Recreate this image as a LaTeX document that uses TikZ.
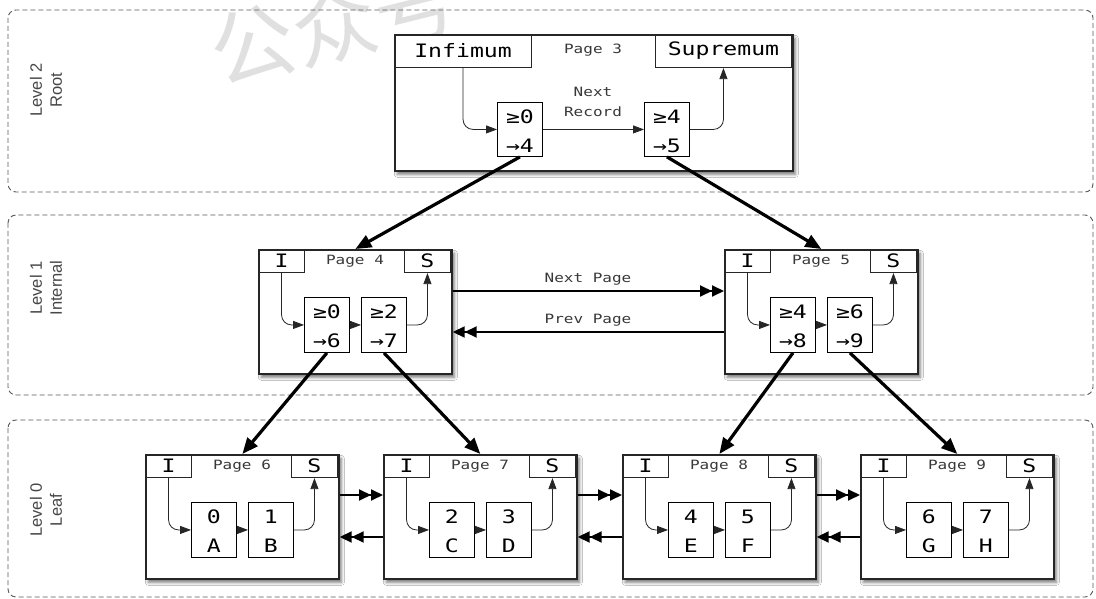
\documentclass[tikz,border=0pt]{standalone}
\usepackage{fontspec}
\usetikzlibrary{arrows.meta,shadows.blur}
\newfontfamily\monof[FakeStretch=1.25]{DejaVu Sans Mono}
\newfontfamily\labf{Liberation Sans}
\newfontfamily\cjkf{Noto Sans CJK SC}
\newcommand\bigmono{\monof\fontsize{18.5}{20}\selectfont}
\newcommand\smallmono{\monof\fontsize{12.8}{20}\selectfont}
\tikzset{
  pg/.style={draw=black!85, line width=1.7pt, fill=white, inner sep=0pt,
    blur shadow={shadow xshift=2.5pt, shadow yshift=-3.5pt, shadow blur radius=3pt, shadow opacity=55}},
  hdr/.style={draw=black!85, line width=1.1pt, inner sep=0pt, font=\bigmono},
  rec/.style={draw=black, line width=0.9pt, fill=white, inner sep=0pt, minimum width=45pt, minimum height=55pt},
  rtext/.style={inner sep=0pt, font=\bigmono},
  plabel/.style={inner sep=0pt, font=\smallmono, text=black!78, align=center},
  inarrow/.style={draw=black!85, line width=0.8pt, -{Triangle[length=11pt,width=8pt]}},
  tree/.style={draw=black, line width=3.2pt, -{Triangle[length=16pt,width=13pt]}},
  parrow/.style={draw=black, line width=1.8pt, -{Triangle[length=12pt,width=11pt] Triangle[length=12pt,width=11pt]}},
  band/.style={draw=black!65, line width=0.9pt, dash pattern=on 5pt off 3pt, rounded corners=8pt},
  lvl/.style={inner sep=0pt, font=\labf\fontsize{16.5}{20}\selectfont, text=black!72, align=center, rotate=90},
  wm/.style={inner sep=0pt, font=\cjkf\fontsize{84}{90}\selectfont, text=black!12, rotate=14}
}
% page frame: #1 name, #2 x, #3 y, #4 number
\newcommand\mkpage[4]{%
  \node[pg, anchor=north west, minimum width=193pt, minimum height=124pt] (#1) at (#2,#3) {};
  \node[hdr, anchor=north west, minimum width=46pt, minimum height=23pt] (#1i) at (#2,#3) {I};
  \node[hdr, anchor=north east, minimum width=46pt, minimum height=23pt] (#1s) at (#2+193,#3) {S};
  \node[plabel] (#1t) at (#2+97,#3+12) {Page #4};
  \node[rec, anchor=north west] (#1a) at (#2+46,#3+48) {};
  \node[rec, anchor=north west] (#1b) at (#2+103,#3+48) {};
  \draw[inarrow, rounded corners=10pt] (#1i.south) |- (#1a.west);
  \draw[inarrow] (#1a.east) -- (#1b.west);
  \draw[inarrow, rounded corners=10pt] (#1b.east) -| (#1s.south);
}
% record texts
\newcommand\recs[5]{%
  \node[rtext] (#1a1) at ([yshift=-14.5pt]#1a.north) {#2};
  \node[rtext] (#1a2) at ([yshift=-43.5pt]#1a.north) {#3};
  \node[rtext] (#1b1) at ([yshift=-14.5pt]#1b.north) {#4};
  \node[rtext] (#1b2) at ([yshift=-43.5pt]#1b.north) {#5};
}
\begin{document}
\begin{tikzpicture}[x=1pt,y=-1pt]
\useasboundingbox (0,0) rectangle (1096,599);
\fill[white] (0,0) rectangle (1096,599);
\begin{scope}
  \clip (0,0) rectangle (1096,599);
  \node[wm] (wmark) at (334,24) {公众号};
\end{scope}

% level bands
\draw[band] (8,10) rectangle (1093,192);
\draw[band] (8,215) rectangle (1093,395);
\draw[band] (8,420) rectangle (1093,597);
\node[lvl] (l2) at (46,90) {Level 2\\Root};
\node[lvl] (l1) at (46,288) {Level 1\\Internal};
\node[lvl] (l0) at (46,510) {Level 0\\Leaf};

% root page
\node[pg, anchor=north west, minimum width=398pt, minimum height=136pt] (p3) at (394,34) {};
\node[hdr, anchor=north west, minimum width=137pt, minimum height=33pt] (p3i) at (394,34) {Infimum};
\node[hdr, anchor=north east, minimum width=136pt, minimum height=33pt] (p3s) at (792,34) {Supremum};
\node[plabel] (p3t) at (593,50) {Page 3};
\node[rec, anchor=north west, minimum height=54pt] (p3a) at (497,102) {};
\node[rec, anchor=north west, minimum height=54pt] (p3b) at (644,102) {};
\node[plabel] (nrec) at (593,102) {Next\\Record};
\draw[inarrow, rounded corners=10pt] (p3i.south) |- (p3a.west);
\draw[inarrow] (p3a.east) -- (p3b.west);
\draw[inarrow, rounded corners=10pt] (p3b.east) -| (p3s.south);
\recs{p3}{≥0}{→4}{≥4}{→5}

% level 1
\mkpage{p4}{258}{249}{4}
\recs{p4}{≥0}{→6}{≥2}{→7}
\mkpage{p5}{724}{249}{5}
\recs{p5}{≥4}{→8}{≥6}{→9}
\draw[parrow] ([yshift=-42pt]p4.north east) -- ([yshift=-42pt]p5.north west);
\draw[parrow] ([yshift=-83pt]p5.north west) -- ([yshift=-83pt]p4.north east);
\node[plabel] (np) at (588,279) {Next Page};
\node[plabel] (pp) at (588,320) {Prev Page};

% leaves
\mkpage{p6}{145}{454}{6}
\recs{p6}{0}{A}{1}{B}
\mkpage{p7}{383}{454}{7}
\recs{p7}{2}{C}{3}{D}
\mkpage{p8}{622}{454}{8}
\recs{p8}{4}{E}{5}{F}
\mkpage{p9}{860}{454}{9}
\recs{p9}{6}{G}{7}{H}
\foreach \u/\v in {p6/p7,p7/p8,p8/p9}{
  \draw[parrow] ([yshift=-41pt]\u.north east) -- ([yshift=-41pt]\v.north west);
  \draw[parrow] ([yshift=-83pt]\v.north west) -- ([yshift=-83pt]\u.north east);
}

% tree pointers
\draw[tree] (p3a.south) -- (p4.north);
\draw[tree] (p3b.south) -- (p5.north);
\draw[tree] (p4a.south) -- (p6.north);
\draw[tree] (p4b.south) -- (p7.north);
\draw[tree] (p5a.south) -- (p8.north);
\draw[tree] (p5b.south) -- (p9.north);
\end{tikzpicture}
\end{document}
